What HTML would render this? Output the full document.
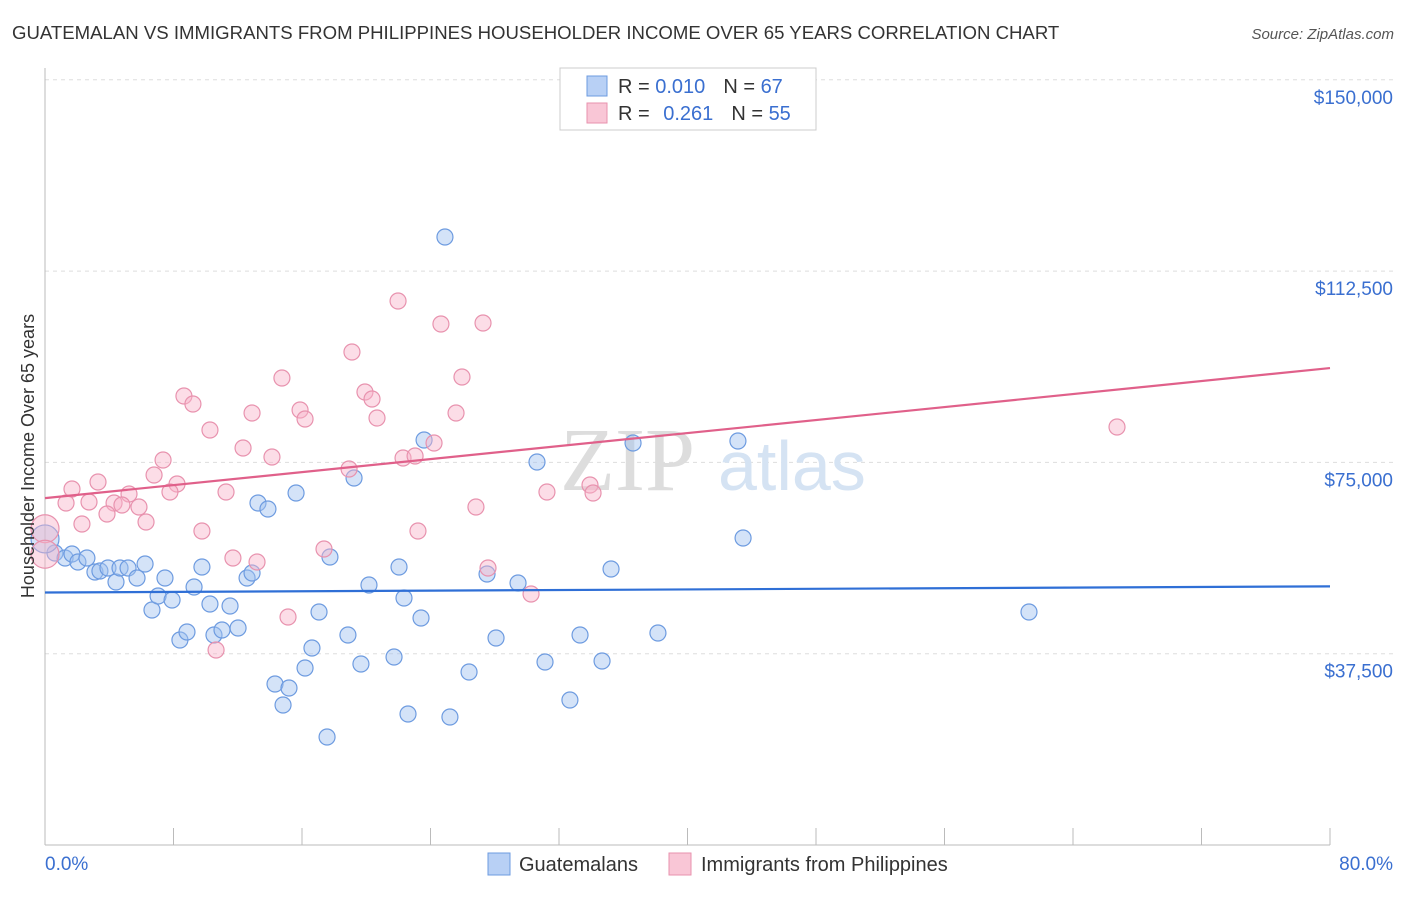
<!DOCTYPE html>
<html><head><meta charset="utf-8"><style>
body{margin:0;background:#fff;font-family:"Liberation Sans",sans-serif}
</style></head><body>
<svg width="1406" height="892" xmlns="http://www.w3.org/2000/svg" font-family="Liberation Sans, sans-serif">
<text x="12" y="39" font-size="18.6" fill="#333">GUATEMALAN VS IMMIGRANTS FROM PHILIPPINES HOUSEHOLDER INCOME OVER 65 YEARS CORRELATION CHART</text>
<text x="1394" y="39" font-size="15" fill="#555" text-anchor="end" font-style="italic">Source: ZipAtlas.com</text>
<g id="grid"></g>
<text x="560" y="490" font-size="90" fill="#ddd" font-family="Liberation Serif, serif">ZIP</text>
<text x="718" y="490" font-size="70" fill="#d5e3f3">atlas</text>
<line x1="45" y1="68" x2="45" y2="845" stroke="#bbb"/>
<line x1="45" y1="845" x2="1330" y2="845" stroke="#bbb"/>
<g id="pts"></g>
<g id="lines"></g>
<text x="34" y="456" font-size="18" fill="#333" text-anchor="middle" transform="rotate(-90 34 456)">Householder Income Over 65 years</text>
<text x="45" y="870" font-size="19" fill="#3a6fd0">0.0%</text>
<text x="1393" y="870" font-size="19" fill="#3a6fd0" text-anchor="end">80.0%</text>
<g>
<rect x="560" y="68" width="256" height="62" fill="#fff" stroke="#ccc"/>
<rect x="587" y="76" width="20" height="20" fill="#b8d0f5" stroke="#6d9be0"/>
<rect x="587" y="103" width="20" height="20" fill="#f9c6d6" stroke="#e892ae"/>
<text x="618" y="93" font-size="20" fill="#333">R = <tspan fill="#3a6fd0">0.010</tspan><tspan dx="18">N = </tspan><tspan fill="#3a6fd0">67</tspan></text>
<text x="618" y="120" font-size="20" fill="#333">R = <tspan fill="#3a6fd0" dx="8">0.261</tspan><tspan dx="18">N = </tspan><tspan fill="#3a6fd0">55</tspan></text>
</g>
<g>
<rect x="488" y="853" width="22" height="22" fill="#b8d0f5" stroke="#6d9be0"/>
<text x="519" y="871" font-size="20" fill="#333">Guatemalans</text>
<rect x="669" y="853" width="22" height="22" fill="#f9c6d6" stroke="#e892ae"/>
<text x="701" y="871" font-size="20" fill="#333">Immigrants from Philippines</text>
</g>
</svg>
<script>
const yTicks=[37500,75000,112500,150000];
const yTickLabels=["$37,500","$75,000","$112,500","$150,000"];
const xTicks=[0,8,16,24,32,40,48,56,64,72,80];
const bluePx=[[445,237],[424,440],[633,443],[738,441],[537,462],[743,538],[354,478],[296,493],[258,503],[268,509],[330,557],[399,567],[611,569],[487,574],[518,583],[369,585],[404,598],[421,618],[319,612],[1029,612],[658,633],[580,635],[496,638],[348,635],[312,648],[394,657],[361,664],[305,668],[545,662],[602,661],[469,672],[275,684],[289,688],[283,705],[570,700],[408,714],[450,717],[327,737],[55,553],[65,558],[72,554],[78,562],[87,558],[95,572],[100,571],[108,568],[116,582],[120,568],[128,568],[137,578],[145,564],[152,610],[158,596],[165,578],[172,600],[180,640],[187,632],[194,587],[202,567],[210,604],[214,635],[222,630],[230,606],[238,628],[247,578],[252,573]];
const pinkPx=[[398,301],[441,324],[483,323],[352,352],[462,377],[282,378],[184,396],[193,404],[365,392],[372,399],[300,410],[252,413],[305,419],[456,413],[377,418],[210,430],[243,448],[434,443],[1117,427],[403,458],[415,456],[272,457],[163,460],[349,469],[154,475],[177,484],[98,482],[72,489],[226,492],[129,494],[170,492],[547,492],[590,485],[593,493],[89,502],[66,503],[114,503],[122,505],[139,507],[107,514],[476,507],[146,522],[82,524],[202,531],[418,531],[233,558],[257,562],[324,549],[488,568],[531,594],[288,617],[216,650]];
const toPct=p=>+((p-45)/16.0625).toFixed(2), toUsd=p=>Math.round((845-p)*196.03);
const blueX=bluePx.map(p=>toPct(p[0])), blueY=bluePx.map(p=>toUsd(p[1]));
const pinkX=pinkPx.map(p=>toPct(p[0])), pinkY=pinkPx.map(p=>toUsd(p[1]));
const blueBig=[[0,60000]], pinkBig=[[0,62000],[0,57000]];
const blueLine=[49500,50700], pinkLine=[68000,93500];
const X=v=>45+v*16.0625, Y=v=>845-v/196.03;
const NS="http://www.w3.org/2000/svg";
function mk(t,a,parent){const e=document.createElementNS(NS,t);for(const k in a)e.setAttribute(k,a[k]);document.getElementById(parent).appendChild(e);return e;}
yTicks.forEach((t,i)=>{
 const l=mk('line',{x1:45,x2:1393,y1:Y(t),y2:Y(t),stroke:'#ddd','stroke-dasharray':'4,4'},'grid');
 
 
 const tx=mk('text',{x:1393,y:Y(t)+24,'font-size':19,fill:'#3a6fd0','text-anchor':'end'},'grid');
 tx.textContent=yTickLabels[i];
 
 
});
xTicks.forEach(t=>{
 const l=mk('line',{x1:X(t),x2:X(t),y1:828,y2:845,stroke:'#bbb'},'grid');
 
 
});
function pts(xs,ys,fill,stroke,r,name){xs.forEach((x,i)=>{
 const c=mk('circle',{cx:X(x),cy:Y(ys[i]),r:r,fill:fill,stroke:stroke,'stroke-width':1.2},'pts');
 
 
});}
pts(blueX,blueY,'rgba(160,192,240,0.45)','#6d9be0',8,'guatemalan-point');
pts(pinkX,pinkY,'rgba(248,180,202,0.45)','#e892ae',8,'philippines-point');
pts(blueBig.map(d=>d[0]),blueBig.map(d=>d[1]),'rgba(160,192,240,0.45)','#6d9be0',14,'guatemalan-point');
pts(pinkBig.map(d=>d[0]),pinkBig.map(d=>d[1]),'rgba(248,180,202,0.45)','#e892ae',14,'philippines-point');
const bl=mk('line',{x1:X(0),x2:X(80),y1:Y(blueLine[0]),y2:Y(blueLine[1]),stroke:'#2f6fd6','stroke-width':2.2},'lines');


const pl=mk('line',{x1:X(0),x2:X(80),y1:Y(pinkLine[0]),y2:Y(pinkLine[1]),stroke:'#e0608a','stroke-width':2.2},'lines');


</script>
</body></html>
